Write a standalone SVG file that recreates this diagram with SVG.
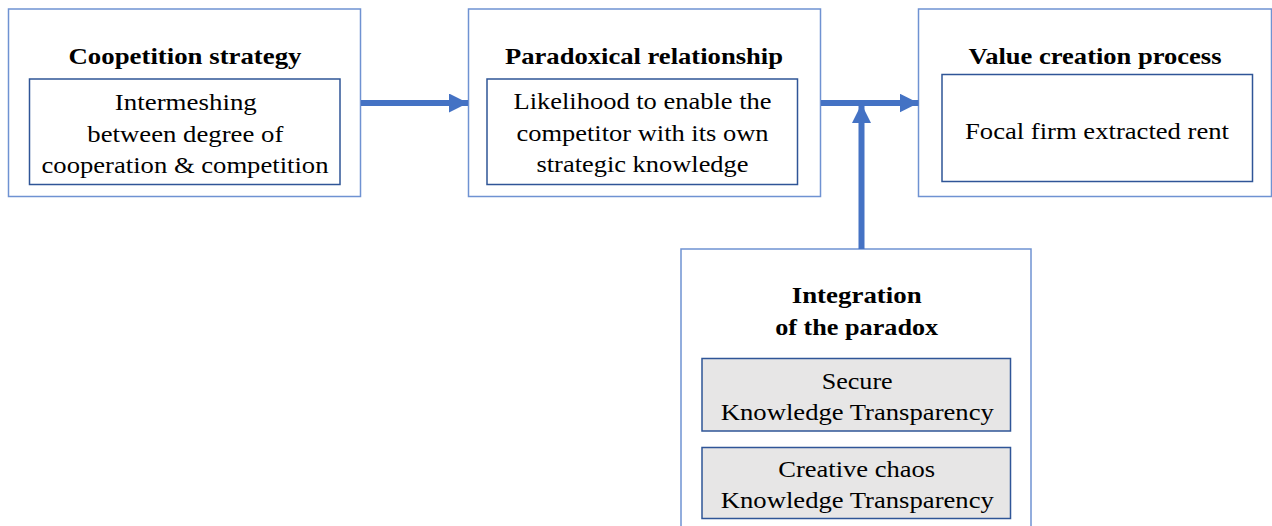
<svg xmlns="http://www.w3.org/2000/svg" width="1272" height="526" viewBox="0 0 1272 526">
<style>
.outer{fill:#fff;stroke:#6f92d2;stroke-width:1.5}
.inner{fill:#fff;stroke:#2f5597;stroke-width:1.5}
.gray{fill:#e7e6e6;stroke:#2f5597;stroke-width:1.5}
.t{font-size:23px;fill:#000;text-anchor:middle}
.b{font-weight:bold}
.c{stroke:#4472c4;stroke-width:6;fill:none}
</style>
<defs>
<marker id="ah" markerUnits="userSpaceOnUse" markerWidth="20" markerHeight="20" refX="19" refY="9.5" orient="auto">
<path d="M0,0 L19,9.5 L0,19 Z" fill="#4472c4"/>
</marker>
</defs>
<rect width="1272" height="526" fill="#fff"/>
<g font-family="'Liberation Serif', 'Times New Roman', serif">
<g id="coopetition">
<rect class="outer" x="8.5" y="9" width="352" height="187.5"/>
<text class="t b" x="185" y="64" textLength="233" lengthAdjust="spacingAndGlyphs">Coopetition strategy</text>
<rect class="inner" x="29.5" y="79" width="310.5" height="105.5"/>
<text class="t" x="185.8" y="109.5" textLength="142" lengthAdjust="spacingAndGlyphs">Intermeshing</text>
<text class="t" x="185.3" y="141.5" textLength="196" lengthAdjust="spacingAndGlyphs">between degree of</text>
<text class="t" x="185" y="173.3" textLength="287" lengthAdjust="spacingAndGlyphs">cooperation &amp; competition</text>
</g>
<g id="paradoxical">
<rect class="outer" x="468.5" y="9" width="352" height="187.5"/>
<text class="t b" x="644" y="64" textLength="278" lengthAdjust="spacingAndGlyphs">Paradoxical relationship</text>
<rect class="inner" x="487" y="79" width="310.5" height="105.5"/>
<text class="t" x="642.5" y="109" textLength="258" lengthAdjust="spacingAndGlyphs">Likelihood to enable the</text>
<text class="t" x="642.5" y="140.5" textLength="252" lengthAdjust="spacingAndGlyphs">competitor with its own</text>
<text class="t" x="642.5" y="172" textLength="212" lengthAdjust="spacingAndGlyphs">strategic knowledge</text>
</g>
<g id="value">
<rect class="outer" x="918.5" y="9" width="353" height="187.5"/>
<text class="t b" x="1095" y="64" textLength="253" lengthAdjust="spacingAndGlyphs">Value creation process</text>
<rect class="inner" x="942" y="74.5" width="310.5" height="107"/>
<text class="t" x="1097" y="138.5" textLength="264" lengthAdjust="spacingAndGlyphs">Focal firm extracted rent</text>
</g>
<g id="integration">
<rect class="outer" x="681" y="249" width="350" height="285"/>
<text class="t b" x="856.7" y="303" textLength="130" lengthAdjust="spacingAndGlyphs">Integration</text>
<text class="t b" x="856.7" y="334.5" textLength="163" lengthAdjust="spacingAndGlyphs">of the paradox</text>
<rect class="gray" x="702" y="358.5" width="308.5" height="72.5"/>
<text class="t" x="857.2" y="388.5" textLength="71" lengthAdjust="spacingAndGlyphs">Secure</text>
<text class="t" x="857.3" y="420" textLength="273" lengthAdjust="spacingAndGlyphs">Knowledge Transparency</text>
<rect class="gray" x="702" y="447.5" width="308.5" height="71"/>
<text class="t" x="856.7" y="476.5" textLength="157" lengthAdjust="spacingAndGlyphs">Creative chaos</text>
<text class="t" x="857.3" y="508" textLength="273" lengthAdjust="spacingAndGlyphs">Knowledge Transparency</text>
</g>
</g>
<g id="connectors">
<line class="c" x1="361" y1="103" x2="468" y2="103" marker-end="url(#ah)"/>
<line class="c" x1="821" y1="103" x2="918.5" y2="103" marker-end="url(#ah)"/>
<line class="c" x1="861.5" y1="249" x2="861.5" y2="104" marker-end="url(#ah)"/>
</g>
</svg>
